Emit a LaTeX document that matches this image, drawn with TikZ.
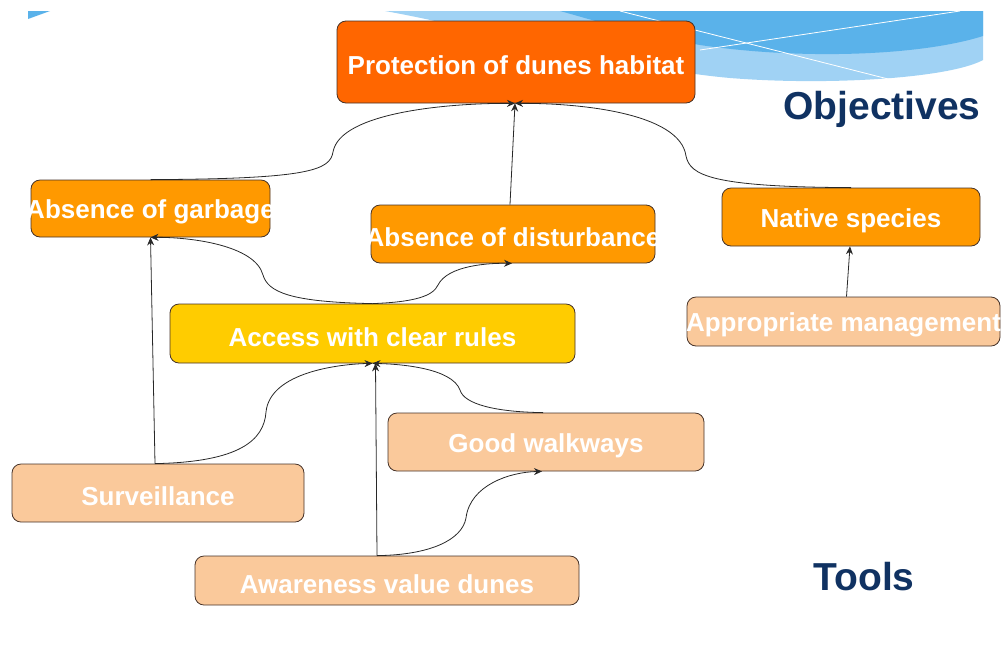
\documentclass[tikz,border=0pt]{standalone}
\usepackage{fontspec}
\setmainfont{Liberation Sans}
\usetikzlibrary{arrows.meta}
\definecolor{cProt}{RGB}{255,102,0}
\definecolor{cObj}{RGB}{255,153,0}
\definecolor{cAcc}{RGB}{255,204,0}
\definecolor{cTool}{RGB}{250,201,155}
\definecolor{cEdge}{RGB}{70,50,40}
\definecolor{cNavy}{RGB}{16,50,98}
\definecolor{cBlueA}{RGB}{160,210,244}
\definecolor{cBlueB}{RGB}{90,178,234}
\definecolor{cLine}{RGB}{40,40,40}
\tikzset{
  box/.style={draw=cEdge, line width=0.8pt, rounded corners=9pt, inner sep=0pt,
    text=white, font=\bfseries\fontsize{26}{30}\selectfont},
  conn/.style={draw=cLine, line width=0.8pt},
  arr/.style={conn, -{Stealth[length=8pt,width=7pt]}},
  heading/.style={text=cNavy, font=\bfseries\fontsize{39}{44}\selectfont, inner sep=0pt}
}
\newcommand{\bx}[1]{\makebox[0pt]{\raisebox{-3.5pt}[\height][\depth]{#1}}}
\begin{document}
\begin{tikzpicture}[x=1pt,y=-1pt]
\useasboundingbox (0,0) rectangle (1001,657);
% background decoration
\fill[cBlueA] (385,11) -- (983,11) -- (983,60) .. controls (950,78) and (830,86) .. (730,78) .. controls (620,68) and (480,28) .. (385,11) -- cycle;
\fill[cBlueB] (560,11) -- (983,11) -- (983,36) .. controls (920,56) and (800,60) .. (700,45) .. controls (640,35) and (600,22) .. (560,11) -- cycle;
\draw[white, line width=0.8pt] (620,11) -- (900,82);
\draw[white, line width=0.8pt] (700,50) -- (960,11);
\fill[cBlueB] (28,11) -- (50,11) -- (28,19) -- cycle;
% nodes
\node[box, fill=cProt, minimum width=358, minimum height=82] (prot) at (516,62) {\bx{Protection of dunes habitat}};
\node[box, fill=cObj, minimum width=239, minimum height=57] (garb) at (150.5,208.5) {\bx{Absence of garbage}};
\node[box, fill=cObj, minimum width=284, minimum height=58] (dist) at (513,234) {\bx{Absence of disturbance}};
\node[box, fill=cObj, minimum width=258, minimum height=58] (nat) at (851,217) {\bx{Native species}};
\node[box, fill=cAcc, minimum width=405, minimum height=59] (acc) at (372.5,333.5) {\bx{Access with clear rules}};
\node[box, fill=cTool, minimum width=313, minimum height=49] (appr) at (843.5,321.5) {\bx{Appropriate management}};
\node[box, fill=cTool, minimum width=316, minimum height=58] (walk) at (546,442) {\bx{Good walkways}};
\node[box, fill=cTool, minimum width=292, minimum height=58] (surv) at (158,493) {\bx{Surveillance}};
\node[box, fill=cTool, minimum width=384, minimum height=49] (aware) at (387,580.5) {\bx{Awareness value dunes}};
\node[heading] (objl) at (882,109) {Objectives};
\node[heading] (tooll) at (864,577) {Tools};
% connectors
\draw[arr] (garb.north) .. controls (310,179) and (330,170) .. (333,152) .. controls (340,112) and (450,103) .. ([xshift=-1]prot.south);
\draw[arr] ([xshift=-3]dist.north) -- ([xshift=-1]prot.south);
\draw[arr] (nat.north) .. controls (710,187) and (690,175) .. (686,156) .. controls (680,113) and (580,103) .. ([xshift=-1]prot.south);
\draw[arr] (acc.north) .. controls (290,302) and (268,292) .. (263,275) .. controls (255,245) and (190,237) .. (garb.south);
\draw[arr] (acc.north) .. controls (415,302) and (433,296) .. (438,285) .. controls (448,265) and (490,263) .. ([xshift=-1]dist.south);
\draw[arr] ([xshift=-3]surv.north) -- (garb.south);
\draw[arr] ([xshift=-3]surv.north) .. controls (240,462) and (264,440) .. (266,412) .. controls (270,372) and (340,364) .. (acc.south);
\draw[arr] ([xshift=-10]aware.north) -- ([xshift=3]acc.south);
\draw[arr] ([xshift=-3]walk.north) .. controls (495,412) and (464,404) .. (460,390) .. controls (452,368) and (400,364) .. (acc.south);
\draw[arr] ([xshift=-10]aware.north) .. controls (430,555) and (462,540) .. (466,518) .. controls (470,485) and (510,472) .. ([xshift=-4]walk.south);
\draw[arr] ([xshift=3]appr.north) -- ([xshift=-1]nat.south);
\end{tikzpicture}
\end{document}
